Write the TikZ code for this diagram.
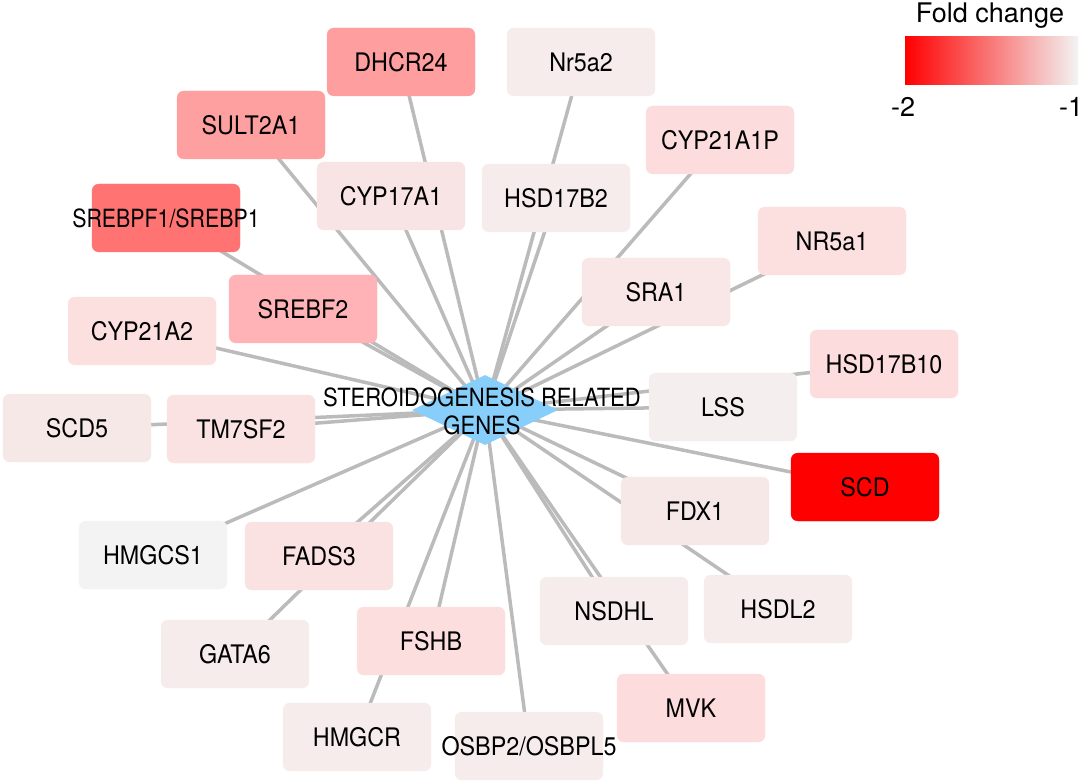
\documentclass[tikz,border=0pt]{standalone}
\usepackage{fontspec}
\setmainfont{TeX Gyre Heros}
\usetikzlibrary{shapes.geometric,backgrounds}
\definecolor{edgegray}{HTML}{BBBBBB}
\definecolor{hubblue}{HTML}{87CEFA}
\definecolor{cA}{HTML}{FF9E9E}
\definecolor{cB}{HTML}{F7ECEC}
\definecolor{cC}{HTML}{FFA0A0}
\definecolor{cD}{HTML}{FCDCDC}
\definecolor{cE}{HTML}{FF7373}
\definecolor{cF}{HTML}{F8E4E4}
\definecolor{cG}{HTML}{FCE0E0}
\definecolor{cH}{HTML}{F9E6E6}
\definecolor{cI}{HTML}{FFB3B6}
\definecolor{cJ}{HTML}{F5EEEE}
\definecolor{cK}{HTML}{F7E8E8}
\definecolor{cL}{HTML}{FAE2E2}
\definecolor{cM}{HTML}{FF0000}
\definecolor{cN}{HTML}{F3F3F3}
\definecolor{cO}{HTML}{FCDEDE}
\definecolor{legmid}{HTML}{FFC8C8}
\definecolor{legend1}{HTML}{F3F3F3}
\newcommand\genelabel[1]{\makebox[0pt]{\scalebox{1.06}[1.16]{#1}}}
\newcommand\genelabelnarrow[1]{\makebox[0pt]{\scalebox{0.97}[1.14]{#1}}}
\tikzset{
  gene/.style={rectangle, rounded corners=7pt, minimum width=148pt, minimum height=68pt,
    inner sep=0pt, fill=#1, draw=#1, font=\fontsize{22}{26}\selectfont, text=black},
  edge/.style={draw=edgegray, line width=3.5pt},
  hubshape/.style={diamond, fill=hubblue, draw=none, inner sep=0pt, minimum width=146pt, minimum height=70pt},
  txt/.style={inner sep=0pt, text=black}
}
\begin{document}
\begin{tikzpicture}[x=1pt,y=-1pt]
\useasboundingbox (0,0) rectangle (1084,783);
% hub
\node[hubshape] (hub) at (485,410) {};
% genes
\node[gene=cA] (dhcr24) at (401,62) {\genelabel{DHCR24}};
\node[gene=cB] (nr5a2) at (581,62) {\genelabel{Nr5a2}};
\node[gene=cC] (sult) at (251,125) {\genelabel{SULT2A1}};
\node[gene=cD] (cyp21a1p) at (720,140) {\genelabel{CYP21A1P}};
\node[gene=cE] (srebpf1) at (166,218) {\genelabelnarrow{SREBPF1/SREBP1}};
\node[gene=cF] (cyp17) at (391,196) {\genelabel{CYP17A1}};
\node[gene=cB] (hsd17b2) at (556,198) {\genelabel{HSD17B2}};
\node[gene=cG] (nr5a1) at (832,241) {\genelabel{NR5a1}};
\node[gene=cH] (sra1) at (656,292) {\genelabel{SRA1}};
\node[gene=cI] (srebf2) at (303,309) {\genelabel{SREBF2}};
\node[gene=cG] (cyp21a2) at (142,331) {\genelabel{CYP21A2}};
\node[gene=cD] (hsd17b10) at (884,364) {\genelabel{HSD17B10}};
\node[gene=cJ] (lss) at (723,407) {\genelabel{LSS}};
\node[gene=cK] (scd5) at (77,428) {\genelabel{SCD5}};
\node[gene=cL] (tm7) at (241,429) {\genelabel{TM7SF2}};
\node[gene=cM] (scd) at (865,487) {\genelabel{SCD}};
\node[gene=cK] (fdx1) at (695,511) {\genelabel{FDX1}};
\node[gene=cN] (hmgcs1) at (153,555) {\genelabel{HMGCS1}};
\node[gene=cL] (fads3) at (319,556) {\genelabel{FADS3}};
\node[gene=cB] (nsdhl) at (614,611) {\genelabel{NSDHL}};
\node[gene=cB] (hsdl2) at (778,609) {\genelabel{HSDL2}};
\node[gene=cB] (gata6) at (235,654) {\genelabel{GATA6}};
\node[gene=cO] (fshb) at (431,641) {\genelabel{FSHB}};
\node[gene=cD] (mvk) at (691,708) {\genelabel{MVK}};
\node[gene=cB] (hmgcr) at (357,737) {\genelabel{HMGCR}};
\node[gene=cB] (osbp) at (529,746) {\genelabel{OSBP2/OSBPL5}};
% hub label
\node[txt, align=center, font=\fontsize{22}{28}\selectfont] (hublabel) at (482,411) {\scalebox{1.0}[1.14]{STEROIDOGENESIS RELATED}\\\scalebox{1.0}[1.14]{GENES}};
% edges
\begin{scope}[on background layer]
\foreach \g in {dhcr24,nr5a2,sult,cyp21a1p,srebpf1,cyp17,hsd17b2,nr5a1,sra1,srebf2,cyp21a2,hsd17b10,lss,scd5,tm7,scd,fdx1,hmgcs1,fads3,nsdhl,hsdl2,gata6,fshb,mvk,hmgcr,osbp}
  \draw[edge] (hub.center) -- (\g.center);
\end{scope}
% legend
\node[txt, font=\fontsize{27}{32}\selectfont] (legtitle) at (990,16) {Fold change};
\shade[left color=cM, middle color=legmid, right color=legend1] (905,37) rectangle (1078,85);
\node[txt, font=\fontsize{27}{32}\selectfont] (lmin) at (903,107) {-2};
\node[txt, font=\fontsize{27}{32}\selectfont] (lmax) at (1071,107) {-1};
\end{tikzpicture}
\end{document}
